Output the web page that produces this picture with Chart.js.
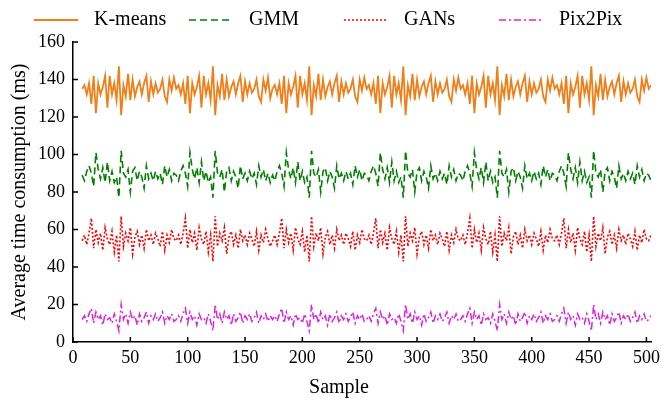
<!DOCTYPE html>
<html>
<head>
<meta charset="UTF-8">
<title>Average time consumption</title>
<script src="https://cdn.jsdelivr.net/npm/chart.js"></script>
<style>
    body { margin: 0; background: #fff; }
    #wrap { width: 670px; height: 400px; position: relative; }
</style>
</head>
<body>
<div id="wrap"><canvas id="myChart"></canvas></div>
<script>
// sample index (x)
const samples = [
    8,10,12,14,16,18,20,22,24,26,28,30,32,34,36,38,40,42,44,46,48,50,52,54,56,58,60,62,64,66,68,70,72,74,76,78,80,82,84,86,88,
    90,92,94,96,98,100,102,104,106,108,110,112,114,116,118,120,122,124,126,128,130,132,134,136,138,140,142,144,146,148,150,152,154,156,158,160,162,164,166,168,170,
    172,
    174,176,178,180,182,184,186,188,190,192,194,196,198,200,202,204,206,208,210,212,214,216,218,220,222,224,226,228,230,232,234,236,238,240,242,244,246,248,250,252,254,
    256,258,260,262,264,266,268,270,272,274,276,278,280,282,284,286,288,290,292,294,296,298,300,302,304,306,308,310,312,314,316,318,320,322,324,326,328,330,332,334,336,
    338,340,342,344,346,348,350,352,354,356,358,360,362,364,366,368,370,372,374,376,378,380,382,384,386,388,390,392,394,396,398,400,402,404,406,408,410,412,414,416,418,
    420,422,424,426,428,430,432,434,436,438,440,442,444,446,448,450,452,454,456,458,460,462,464,466,468,470,472,474,476,478,480,482,484,486,488,490,492,494,496,498,500,
    502,504
];

// average time consumption (ms)
const kmeans = [
    135,137,132,138,127,142,122,138,132,136,142,125,142,132,138,129,147,121,137,131,143,129,140,131,136,139,132,138,142,128,139,132,138,133,135,140,131,128,140,134,141,
    135,137,132,138,127,142,122,138,132,136,142,125,142,132,138,129,147,121,137,131,143,129,140,131,136,139,132,138,142,128,139,132,138,133,135,140,131,128,140,134,141,
    130,
    135,137,132,138,127,142,122,138,132,136,142,125,142,132,138,129,147,121,137,131,143,129,140,131,136,139,132,138,142,128,139,132,138,133,135,140,131,128,140,134,141,
    135,137,132,138,127,142,122,138,132,136,142,125,142,132,138,129,147,121,137,131,143,129,140,131,136,139,132,138,142,128,139,132,138,133,135,140,131,128,140,134,141,
    135,137,132,138,127,142,122,138,132,136,142,125,142,132,138,129,147,121,137,131,143,129,140,131,136,139,132,138,142,128,139,132,138,133,135,140,131,128,140,134,141,
    135,137,132,138,127,142,122,138,132,136,142,125,142,132,138,129,147,121,137,131,143,129,140,131,136,139,132,138,142,128,139,132,138,133,135,140,131,128,140,134,141,
    135,137
];
const gmm = [
    89,86,91,94,90,83,101,92,87,93,85,96,86,91,85,88,77,102,90,88,92,80,91,93,86,91,88,82,94,87,90,86,91,87,90,84,94,88,92,86,90,
    89,86,91,94,90,83,101,92,87,93,85,96,86,91,85,88,77,102,90,88,92,80,91,93,86,91,88,82,94,87,90,86,91,87,90,84,94,88,92,86,90,
    85,
    89,86,91,94,90,83,101,92,87,93,85,96,86,91,85,88,77,102,90,88,92,80,91,93,86,91,88,82,94,87,90,86,91,87,90,84,94,88,92,86,90,
    89,86,91,94,90,83,101,92,87,93,85,96,86,91,85,88,77,102,90,88,92,80,91,93,86,91,88,82,94,87,90,86,91,87,90,84,94,88,92,86,90,
    89,86,91,94,90,83,101,92,87,93,85,96,86,91,85,88,77,102,90,88,92,80,91,93,86,91,88,82,94,87,90,86,91,87,90,84,94,88,92,86,90,
    89,86,91,94,90,83,101,92,87,93,85,96,86,91,85,88,77,102,90,88,92,80,91,93,86,91,88,82,94,87,90,86,91,87,90,84,94,88,92,86,90,
    89,86
];
const gans = [
    54,57,52,58,66,50,60,53,58,49,61,55,52,59,48,57,43,67,51,58,54,61,47,56,59,52,57,50,60,54,57,52,58,55,51,59,49,57,53,60,55,
    54,57,52,58,66,50,60,53,58,49,61,55,52,59,48,57,43,67,51,58,54,61,47,56,59,52,57,50,60,54,57,52,58,55,51,59,49,57,53,60,55,
    51,
    54,57,52,58,66,50,60,53,58,49,61,55,52,59,48,57,43,67,51,58,54,61,47,56,59,52,57,50,60,54,57,52,58,55,51,59,49,57,53,60,55,
    54,57,52,58,66,50,60,53,58,49,61,55,52,59,48,57,43,67,51,58,54,61,47,56,59,52,57,50,60,54,57,52,58,55,51,59,49,57,53,60,55,
    54,57,52,58,66,50,60,53,58,49,61,55,52,59,48,57,43,67,51,58,54,61,47,56,59,52,57,50,60,54,57,52,58,55,51,59,49,57,53,60,55,
    54,57,52,58,66,50,60,53,58,49,61,55,52,59,48,57,43,67,51,58,54,61,47,56,59,52,57,50,60,54,57,52,58,55,51,59,49,57,53,60,55,
    54,57
];
const pix2pix = [
    12,14,11,15,18,10,16,12,14,9,15,12,13,10,15,11,6,20,12,15,10,16,12,14,9,15,11,13,16,10,14,12,15,11,13,16,10,14,12,15,11,
    12,14,11,15,18,10,16,12,14,9,15,12,13,10,15,11,6,20,12,15,10,16,12,14,9,15,11,13,16,10,14,12,15,11,13,16,10,14,12,15,11,
    14,
    12,14,11,15,18,10,16,12,14,9,15,12,13,10,15,11,6,20,12,15,10,16,12,14,9,15,11,13,16,10,14,12,15,11,13,16,10,14,12,15,11,
    12,14,11,15,18,10,16,12,14,9,15,12,13,10,15,11,6,20,12,15,10,16,12,14,9,15,11,13,16,10,14,12,15,11,13,16,10,14,12,15,11,
    12,14,11,15,18,10,16,12,14,9,15,12,13,10,15,11,6,20,12,15,10,16,12,14,9,15,11,13,16,10,14,12,15,11,13,16,10,14,12,15,11,
    12,14,11,15,18,10,16,12,14,9,15,12,13,10,15,11,6,20,12,15,10,16,12,14,9,15,11,13,16,10,14,12,15,11,13,16,10,14,12,15,11,
    12,14
];

const xTicks = [0, 50, 100, 150, 200, 250, 300, 350, 400, 450, 500];
const yTicks = [0, 20, 40, 60, 80, 100, 120, 140, 160];
const xTitle = 'Sample';

const serif = '"Liberation Serif", "Times New Roman", serif';

// legend on top, x title, inward tick marks
const extras = {
    id: 'extras',
    afterDraw(chart) {
        const ctx = chart.ctx;
        const area = chart.chartArea;
        const sx = chart.scales.x, sy = chart.scales.y;
        ctx.save();
        ctx.strokeStyle = '#000';
        ctx.lineWidth = 1.5;
        ctx.beginPath();
        xTicks.forEach(v => {
            const px = sx.getPixelForValue(v);
            ctx.moveTo(px, area.bottom);
            ctx.lineTo(px, area.bottom - 5);
        });
        yTicks.forEach(v => {
            const py = sy.getPixelForValue(v);
            ctx.moveTo(area.left, py);
            ctx.lineTo(area.left + 5, py);
        });
        ctx.stroke();

        ctx.fillStyle = '#000';
        ctx.font = '20px ' + serif;
        ctx.textAlign = 'center';
        ctx.textBaseline = 'middle';
        ctx.fillText(xTitle, 339, 388);

        ctx.textAlign = 'left';
        chart.data.datasets.forEach((ds, i) => {
            const x0 = 34 + 155 * i, ly = 20;
            ctx.strokeStyle = ds.borderColor;
            ctx.lineWidth = ds.borderWidth;
            ctx.setLineDash(ds.borderDash || []);
            ctx.beginPath();
            ctx.moveTo(x0, ly);
            ctx.lineTo(x0 + 44, ly);
            ctx.stroke();
            ctx.setLineDash([]);
            ctx.fillText(ds.label, x0 + 60, ly);
        });
        ctx.restore();
    }
};

new Chart(document.getElementById('myChart'), {
    type: 'line',
    data: {
        labels: samples,
        datasets: [
            { label: 'K-means', data: kmeans, borderColor: '#f07f1a', borderWidth: 1.8 },
            { label: 'GMM', data: gmm, borderColor: '#008000', borderWidth: 1.6, borderDash: [7, 4] },
            { label: 'GANs', data: gans, borderColor: '#ff0000', borderWidth: 1.6, borderDash: [2, 2] },
            { label: 'Pix2Pix', data: pix2pix, borderColor: '#dd22dd', borderWidth: 1.5, borderDash: [7, 3, 2, 3] }
        ]
    },
    options: {
        responsive: true,
        maintainAspectRatio: false,
        animation: false,
        layout: { padding: { top: 42, right: 19, left: 0, bottom: 0 } },
        plugins: { legend: { display: false }, tooltip: { enabled: false } },
        elements: { point: { radius: 0 }, line: { tension: 0, fill: false } },
        scales: {
            x: {
                type: 'linear', min: 0, max: 504,
                afterBuildTicks: s => { s.ticks = xTicks.map(v => ({ value: v })); },
                afterFit: s => { s.height = 58; },
                grid: { drawOnChartArea: false, drawTicks: false },
                border: { color: '#000', width: 1.5 },
                ticks: { color: '#000', font: { family: serif, size: 18 }, padding: 5, maxRotation: 0, autoSkip: false }
            },
            y: {
                min: 0, max: 160,
                afterBuildTicks: s => { s.ticks = yTicks.map(v => ({ value: v })); },
                afterFit: s => { s.width = 73; },
                grid: { drawOnChartArea: false, drawTicks: false },
                border: { color: '#000', width: 1.5 },
                ticks: { color: '#000', font: { family: serif, size: 18 }, padding: 8 },
                title: { display: true, text: 'Average time consumption (ms)', color: '#000', font: { family: serif, size: 20 }, padding: { top: 8, bottom: 0 } }
            }
        }
    },
    plugins: [extras]
});
</script>
</body>
</html>
